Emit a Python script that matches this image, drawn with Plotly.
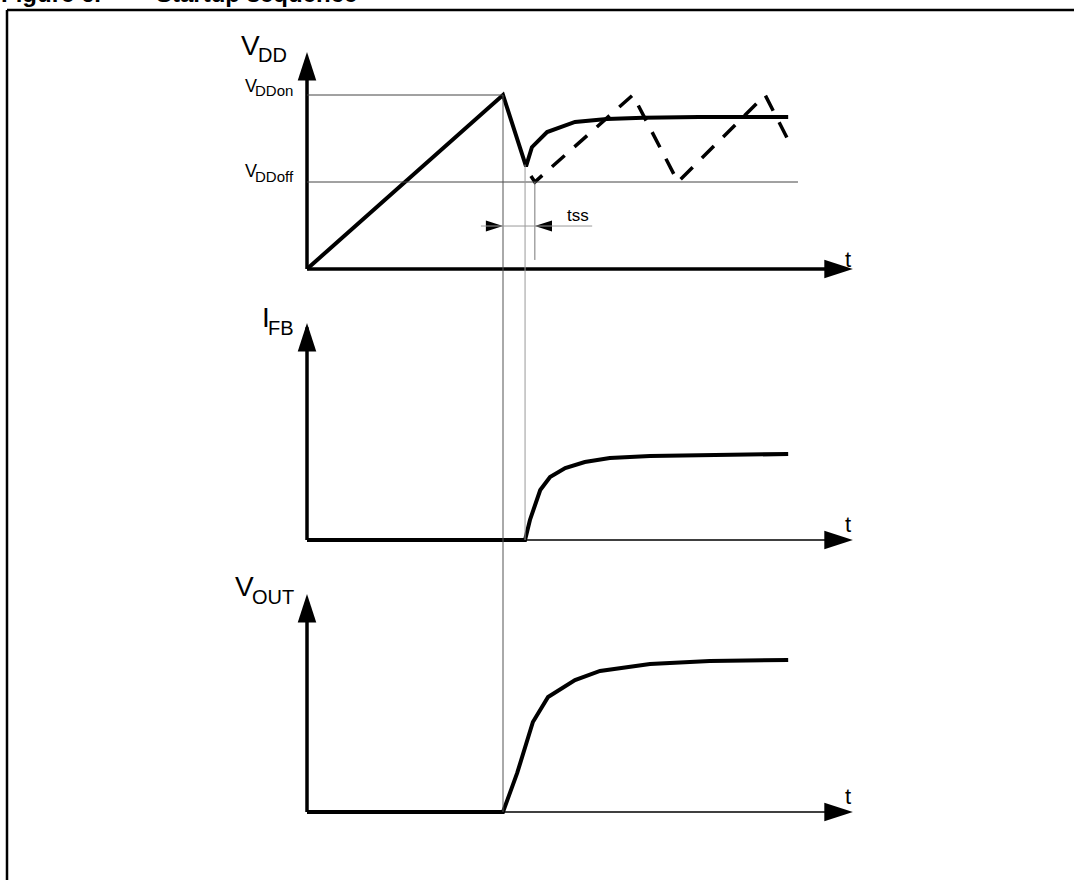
import plotly.graph_objects as go

# --- signals (time in arbitrary units, amplitudes normalised) ---
vdd_t = [0.0, 4.00, 4.47, 4.59, 4.90, 5.16, 5.47, 6.12, 6.86, 8.00, 9.82]
vdd_v = [0.0, 1.00, 0.59, 0.70, 0.787, 0.816, 0.845, 0.862, 0.869, 0.873, 0.874]

# VDD when the converter does not start (restart cycling between VDDoff and VDDon)
vdd_retry_t = [4.57, 4.65, 6.65, 7.57, 9.35, 9.82]
vdd_retry_v = [0.534, 0.50, 1.00, 0.50, 1.00, 0.741]

ifb_t = [0.0, 4.45, 4.55, 4.76, 4.96, 5.27, 5.67, 6.18, 7.00, 8.02, 9.82]
ifb_v = [0.0, 0.0, 0.233, 0.581, 0.733, 0.837, 0.907, 0.953, 0.977, 0.988, 1.0]

vout_t = [0.0, 4.00, 4.29, 4.61, 4.92, 5.47, 5.98, 7.00, 8.22, 9.82]
vout_v = [0.0, 0.0, 0.257, 0.592, 0.757, 0.868, 0.928, 0.974, 0.993, 1.0]

VDD_ON = 1.0
VDD_OFF = 0.5
VDD_DIP = 0.60
T_ON = 4.00      # VDD reaches VDDon
T_START = 4.45   # feedback current starts
T_SS = 4.65      # end of tss marker
T_END = 11.14    # tip of the time axes
TSS_LEVEL = 0.247

# --- page geometry ---
W, H = 1074, 880
T0_PX, T_UNIT = 307, 49
FONT = "Arial, Liberation Sans, sans-serif"


def yrange(base_px, unit_px):
    return [-(H - base_px) / unit_px, base_px / unit_px]


r_vdd = yrange(269, 174)
r_ifb = yrange(540, 86)
r_vout = yrange(812, 152)


def paper(v, rng):
    return (v - rng[0]) / (rng[1] - rng[0])


fig = go.Figure()


def line(x, y, yaxis, width=4, dash=None):
    fig.add_trace(go.Scatter(
        x=x, y=y, yaxis=yaxis, mode="lines",
        line=dict(color="black", width=width, dash=dash),
        hoverinfo="skip", showlegend=False,
    ))


def arrow(x, y, yaxis, angle, size=30):
    fig.add_trace(go.Scatter(
        x=[x], y=[y], yaxis=yaxis, mode="markers",
        marker=dict(symbol="arrow", angle=angle, size=size, color="black",
                    line=dict(width=0)),
        hoverinfo="skip", showlegend=False,
    ))


# axes drawn as arrows
for yax, tip, x_width in [("y", 1.247, 3.5), ("y2", 2.523, 1.3), ("y3", 1.434, 1.3)]:
    line([0, 0], [0, tip - 0.05], yax, width=3.5)
    arrow(0, tip, yax, 0)
    line([0, T_END - 0.3], [0, 0], yax, width=x_width)
    arrow(T_END, 0, yax, 90)

# signals
line(vdd_t, vdd_v, "y")
line(vdd_retry_t, vdd_retry_v, "y", width=3.5, dash="17px,13px")
line(ifb_t, ifb_v, "y2")
line(vout_t, vout_v, "y3")

# tss arrows
arrow(T_ON, TSS_LEVEL, "y", 90, size=18)
arrow(T_SS, TSS_LEVEL, "y", 270, size=18)

thin = dict(color="#444", width=1)
shapes = [
    dict(type="line", xref="x", yref="y", x0=0, x1=T_ON, y0=VDD_ON, y1=VDD_ON, line=thin),
    dict(type="line", xref="x", yref="y", x0=0, x1=10.02, y0=VDD_OFF, y1=VDD_OFF, line=thin),
    dict(type="line", xref="x", yref="paper", x0=T_ON, x1=T_ON,
         y0=paper(VDD_ON, r_vdd), y1=paper(0, r_vout), line=dict(color="#555", width=1)),
    dict(type="line", xref="x", yref="paper", x0=T_START, x1=T_START,
         y0=paper(VDD_DIP, r_vdd), y1=paper(0, r_ifb), line=dict(color="#999", width=1)),
    dict(type="line", xref="x", yref="y", x0=T_SS, x1=T_SS, y0=VDD_OFF, y1=0.052,
         line=dict(color="#777", width=1)),
    dict(type="line", xref="x", yref="y", x0=3.55, x1=5.82, y0=TSS_LEVEL, y1=TSS_LEVEL,
         line=dict(color="#999", width=1)),
    # page frame
    dict(type="line", xref="paper", yref="paper", x0=7 / W, x1=1, y0=1 - 10 / H, y1=1 - 10 / H,
         line=dict(color="black", width=2.5)),
    dict(type="line", xref="paper", yref="paper", x0=7 / W, x1=7 / W, y0=1 - 10 / H, y1=0,
         line=dict(color="black", width=2.5)),
]

annotations = []


def label(text, size, x_px, baseline_px, xanchor="left", bold=False):
    annotations.append(dict(
        text=f"<b>{text}</b>" if bold else text,
        xref="paper", yref="paper",
        x=x_px / W, y=1 - (baseline_px + 0.212 * size) / H,
        xanchor=xanchor, yanchor="bottom", showarrow=False, borderpad=0,
        font=dict(family=FONT, size=size, color="black"),
    ))


def sub_label(main, sub, big, small, split_px, base_main, base_sub):
    label(main, big, split_px + 1, base_main, xanchor="right")
    label(sub, small, split_px - 3, base_sub, xanchor="left")


sub_label("V", "DD", 28, 20, 260, 56, 63)
sub_label("V", "DDon", 18, 15, 257, 93, 97)
sub_label("V", "DDoff", 18, 15, 257, 178, 183)
sub_label("I", "FB", 28, 20, 270, 328, 336)
sub_label("V", "OUT", 28, 20, 254, 597, 605)
label("tss", 17, 566, 222)
for base in (268, 533, 805):
    label("t", 22, 844, base)

# figure caption, cut by the top of the page as in the source
label("Figure 6.", 24, 0, 3, bold=True)
label("Startup sequence", 24, 155, 3, bold=True)

fig.update_layout(
    width=W, height=H,
    margin=dict(l=0, r=0, t=0, b=0),
    paper_bgcolor="white", plot_bgcolor="white",
    xaxis=dict(range=[-T0_PX / T_UNIT, (W - T0_PX) / T_UNIT], visible=False),
    yaxis=dict(range=r_vdd, visible=False),
    yaxis2=dict(range=r_ifb, overlaying="y", visible=False),
    yaxis3=dict(range=r_vout, overlaying="y", visible=False),
    shapes=shapes,
    annotations=annotations,
    showlegend=False,
)

fig.write_html("out.html", config={"displayModeBar": False},
               post_script="document.body.style.margin='0';")
